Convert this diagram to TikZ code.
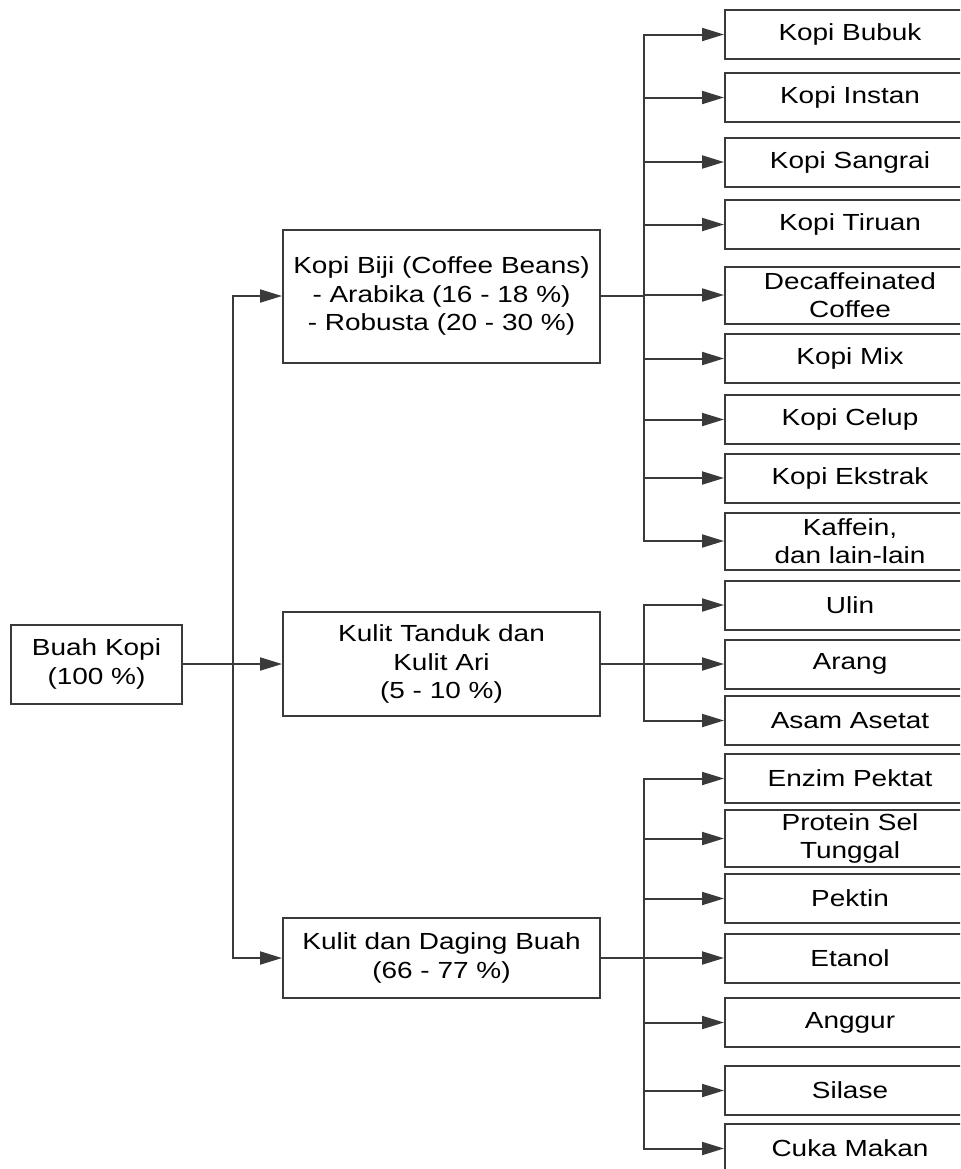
\documentclass[tikz,border=0pt]{standalone}
\usepackage{fontspec}
\setmainfont{Liberation Sans}[FakeStretch=1.2]
\usetikzlibrary{arrows.meta}
\definecolor{linegray}{HTML}{3A3A3A}

\begin{document}
\begin{tikzpicture}[x=0.5pt, y=-0.5pt]
\tikzstyle{line} = [draw, linegray, line width=1pt, -{Triangle[length=11pt, width=6.5pt]}]
\tikzstyle{box} = [draw, linegray, line width=1pt, align=center, text=black, inner sep=0pt,
  font=\fontsize{11.65}{14.3}\selectfont]
\tikzstyle{middle} = [box, minimum width=158.5pt]
\tikzstyle{leaf} = [box, minimum width=125pt, minimum height=24.5pt]
\tikzstyle{leaftwo} = [box, minimum width=125pt, minimum height=28.5pt]

\clip (0,0) rectangle (960,1169);

% root
\node[box, minimum width=85.5pt, minimum height=39.5pt] (Buah) at (96.5,664) {Buah Kopi\\(100 \%)};

% middle column
\node[middle, minimum height=66.5pt] (Biji) at (441.5,296) {Kopi Biji (Coffee Beans)\\- Arabika (16 - 18 \%)\\- Robusta (20 - 30 \%)};
\node[middle, minimum height=52pt] (Tanduk) at (441.5,664) {Kulit Tanduk dan\\Kulit Ari\\(5 - 10 \%)};
\node[middle, minimum height=40pt] (Daging) at (441.5,958) {Kulit dan Daging Buah\\(66 - 77 \%)};

% products of the beans
\node[leaf] (Bubuk) at (850,34.5) {Kopi Bubuk};
\node[leaf] (Instan) at (850,97.5) {Kopi Instan};
\node[leaf] (Sangrai) at (850,162) {Kopi Sangrai};
\node[leaf] (Tiruan) at (850,224.5) {Kopi Tiruan};
\node[leaftwo] (Decaf) at (850,295) {Decaffeinated\\Coffee};
\node[leaf] (Mix) at (850,358.5) {Kopi Mix};
\node[leaf] (Celup) at (850,419.5) {Kopi Celup};
\node[leaf] (Ekstrak) at (850,478) {Kopi Ekstrak};
\node[leaftwo] (Kaffein) at (850,541) {Kaffein,\\dan lain-lain};

% products of the hull
\node[leaf] (Ulin) at (850,605) {Ulin};
\node[leaf] (Arang) at (850,664) {Arang};
\node[leaf] (Asam) at (850,720.5) {Asam Asetat};

% products of the pulp
\node[leaf] (Enzim) at (850,778.5) {Enzim Pektat};
\node[leaftwo] (Protein) at (850,838.5) {Protein Sel\\Tunggal};
\node[leaf] (Pektin) at (850,898.5) {Pektin};
\node[leaf] (Etanol) at (850,958) {Etanol};
\node[leaf] (Anggur) at (850,1022.5) {Anggur};
\node[leaf] (Silase) at (850,1090.5) {Silase};
\node[leaf] (Cuka) at (850,1148.5) {Cuka Makan};

% connectors
\foreach \child in {Biji, Tanduk, Daging}
  \path[line] (Buah.east) -- ++(50,0) |- (\child.west);
\foreach \child in {Bubuk, Instan, Sangrai, Tiruan, Decaf, Mix, Celup, Ekstrak, Kaffein}
  \path[line] (Biji.east) -- ++(43,0) |- (\child.west);
\foreach \child in {Ulin, Arang, Asam}
  \path[line] (Tanduk.east) -- ++(43,0) |- (\child.west);
\foreach \child in {Enzim, Protein, Pektin, Etanol, Anggur, Silase, Cuka}
  \path[line] (Daging.east) -- ++(43,0) |- (\child.west);

\end{tikzpicture}
\end{document}
